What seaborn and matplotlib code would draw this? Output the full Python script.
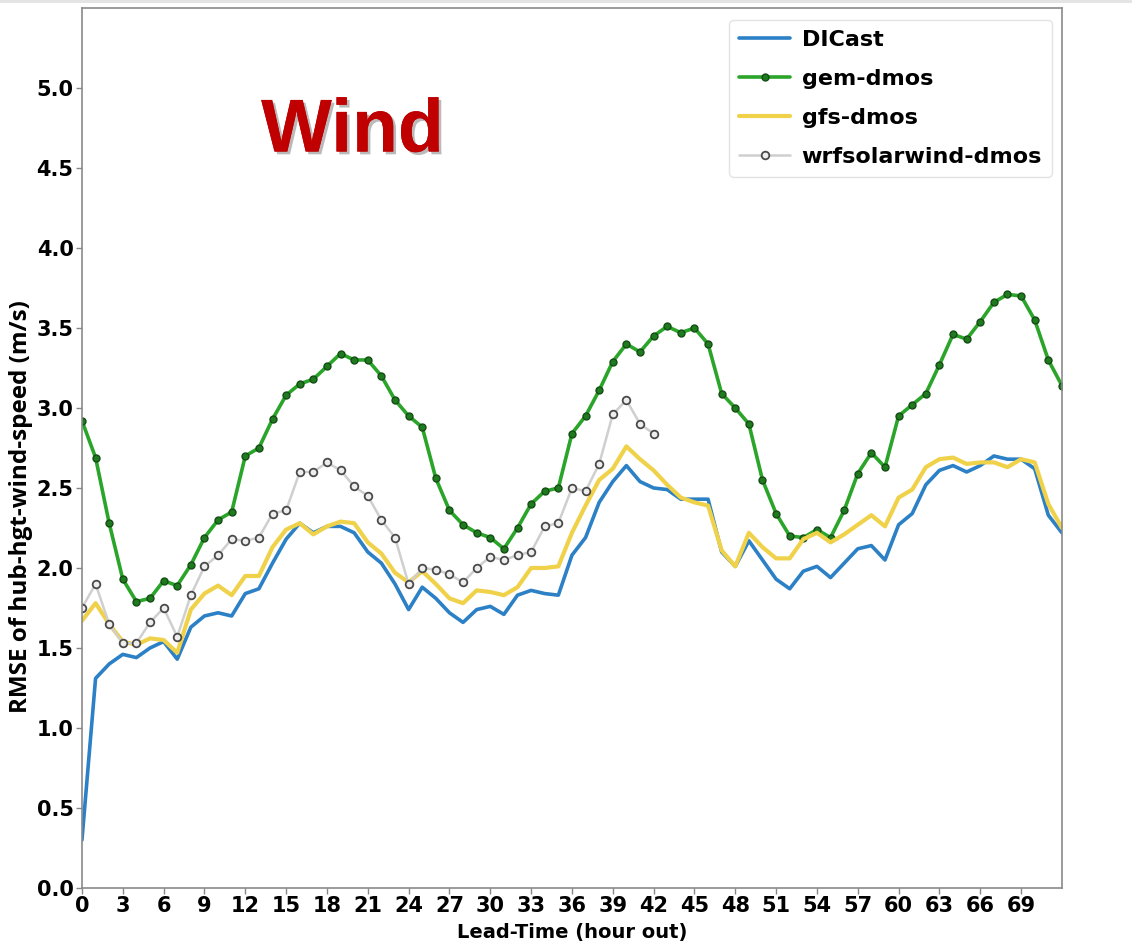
import numpy as np
import pandas as pd
import matplotlib
matplotlib.use("Agg")
import matplotlib.pyplot as plt
import matplotlib.patheffects as pe
from matplotlib.patches import Rectangle
import seaborn as sns

# Forecast lead times (hours)
lead_hours = list(range(0, 73))

dicast = [0.30, 1.31, 1.40, 1.46, 1.44, 1.50, 1.54, 1.43, 1.63, 1.70,
          1.72, 1.70, 1.84, 1.87, 2.03, 2.18, 2.28, 2.22, 2.26, 2.26,
          2.22, 2.10, 2.03, 1.90, 1.74, 1.88, 1.81, 1.72, 1.66, 1.74,
          1.76, 1.71, 1.83, 1.86, 1.84, 1.83, 2.08, 2.19, 2.41, 2.54,
          2.64, 2.54, 2.50, 2.49, 2.43, 2.43, 2.43, 2.10, 2.01, 2.17,
          2.05, 1.93, 1.87, 1.98, 2.01, 1.94, 2.03, 2.12, 2.14, 2.05,
          2.27, 2.34, 2.52, 2.61, 2.64, 2.60, 2.64, 2.70, 2.68, 2.68,
          2.62, 2.33, 2.22]

gem_dmos = [2.92, 2.69, 2.28, 1.93, 1.79, 1.81, 1.92, 1.89, 2.02, 2.19,
            2.30, 2.35, 2.70, 2.75, 2.93, 3.08, 3.15, 3.18, 3.26, 3.34,
            3.30, 3.30, 3.20, 3.05, 2.95, 2.88, 2.56, 2.36, 2.27, 2.22,
            2.19, 2.12, 2.25, 2.40, 2.48, 2.50, 2.84, 2.95, 3.11, 3.29,
            3.40, 3.35, 3.45, 3.51, 3.47, 3.50, 3.40, 3.09, 3.00, 2.90,
            2.55, 2.34, 2.20, 2.19, 2.24, 2.19, 2.36, 2.59, 2.72, 2.63,
            2.95, 3.02, 3.09, 3.27, 3.46, 3.43, 3.54, 3.66, 3.71, 3.70,
            3.55, 3.30, 3.14]

gfs_dmos = [1.67, 1.78, 1.65, 1.54, 1.52, 1.56, 1.55, 1.47, 1.74, 1.84,
            1.89, 1.83, 1.95, 1.95, 2.13, 2.24, 2.28, 2.21, 2.26, 2.29,
            2.28, 2.16, 2.09, 1.97, 1.91, 1.98, 1.90, 1.81, 1.78, 1.86,
            1.85, 1.83, 1.88, 2.00, 2.00, 2.01, 2.22, 2.39, 2.55, 2.62,
            2.76, 2.68, 2.61, 2.52, 2.44, 2.41, 2.39, 2.11, 2.01, 2.22,
            2.13, 2.06, 2.06, 2.18, 2.22, 2.16, 2.21, 2.27, 2.33, 2.26,
            2.44, 2.49, 2.63, 2.68, 2.69, 2.65, 2.66, 2.66, 2.63, 2.68,
            2.66, 2.40, 2.25]

# wrfsolarwind-dmos only runs out to hour 42
wrf_hours = list(range(0, 43))
wrfsolarwind_dmos = [1.75, 1.90, 1.65, 1.53, 1.53, 1.66, 1.75, 1.57, 1.83, 2.01,
                     2.08, 2.18, 2.17, 2.19, 2.34, 2.36, 2.60, 2.60, 2.66, 2.61,
                     2.51, 2.45, 2.30, 2.19, 1.90, 2.00, 1.99, 1.96, 1.91, 2.00,
                     2.07, 2.05, 2.08, 2.10, 2.26, 2.28, 2.50, 2.48, 2.65, 2.96,
                     3.05, 2.90, 2.84]

x_ticks = list(range(0, 70, 3))
y_ticks = [0.0, 0.5, 1.0, 1.5, 2.0, 2.5, 3.0, 3.5, 4.0, 4.5, 5.0]

sns.set_style("white")
plt.rcParams["font.family"] = ["DejaVu Sans"]
plt.rcParams["text.color"] = "black"
plt.rcParams["axes.labelcolor"] = "black"
plt.rcParams["xtick.labelcolor"] = "black"
plt.rcParams["ytick.labelcolor"] = "black"

fig = plt.figure(figsize=(11.32, 9.48), dpi=100)
ax = fig.add_axes([0.0724, 0.0633, 0.8657, 0.9283])

# thin grey strip along the top edge of the page
fig.patches.append(Rectangle((0, 0.9965), 1, 0.0035, transform=fig.transFigure,
                             facecolor="#e4e4e4", edgecolor="none", zorder=0))

sns.lineplot(x=lead_hours, y=dicast, ax=ax, color="#2b80c6", lw=2.6,
             label="DICast")
sns.lineplot(x=lead_hours, y=gem_dmos, ax=ax, color="#2aa52a", lw=2.6,
             marker="o", markersize=5, markerfacecolor="#1f7a1f",
             markeredgecolor="#144d14", markeredgewidth=1.0, label="gem-dmos")
sns.lineplot(x=lead_hours, y=gfs_dmos, ax=ax, color="#f0d24a", lw=3.0,
             label="gfs-dmos")
sns.lineplot(x=wrf_hours, y=wrfsolarwind_dmos, ax=ax, color="#cfcfcf", lw=1.8,
             marker="o", markersize=5.5, markerfacecolor="#eeeeee",
             markeredgecolor="#4a4a4a", markeredgewidth=1.3,
             label="wrfsolarwind-dmos")

ax.set_xlim(0, 72)
ax.set_ylim(0, 5.5)
ax.set_xticks(x_ticks)
ax.set_yticks(y_ticks)
ax.set_xticklabels([str(t) for t in x_ticks], fontsize=15, fontweight="bold")
ax.set_yticklabels([f"{t:.1f}" for t in y_ticks], fontsize=15, fontweight="bold")
ax.tick_params(axis="both", which="major", length=4, width=1, color="#888888",
               direction="out", pad=2, bottom=True, left=True)

for side in ["top", "bottom", "left", "right"]:
    ax.spines[side].set_visible(True)
    ax.spines[side].set_color("#8a8a8a")
    ax.spines[side].set_linewidth(1.2)

ax.set_xlabel("Lead-Time (hour out)", fontsize=14, fontweight="bold", labelpad=5)
ax.set_ylabel("RMSE of hub-hgt-wind-speed (m/s)", fontsize=17.5,
              fontweight="bold", family=["Open Sans", "DejaVu Sans"])
ax.yaxis.set_label_coords(-0.050, 0.433)

leg = ax.legend(loc="upper right", bbox_to_anchor=(0.9898, 0.9864),
                borderaxespad=0.0,
                prop={"weight": "bold", "size": 16}, frameon=True,
                handlelength=2.3, borderpad=0.45, labelspacing=0.85,
                handletextpad=0.5)
leg.get_frame().set_edgecolor("#dddddd")
leg.get_frame().set_linewidth(1.0)

ax.text(0.276, 0.859, "Wind", transform=ax.transAxes, ha="center",
        va="center", fontsize=54, fontweight="bold", color="#c00000",
        family=["Liberation Sans", "DejaVu Sans"],
        path_effects=[pe.withSimplePatchShadow(offset=(2, -2),
                                               shadow_rgbFace="#777777",
                                               alpha=0.5),
                      pe.Normal()])

fig.savefig("out.png", dpi=100, facecolor="white")
